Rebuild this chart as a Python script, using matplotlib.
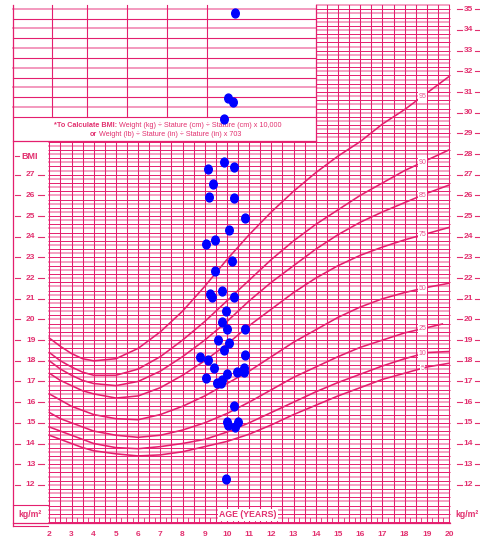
import numpy as np
import matplotlib
matplotlib.use("Agg")
import matplotlib.pyplot as plt
from matplotlib.markers import MarkerStyle
from matplotlib.transforms import Affine2D

plt.rcParams['font.family'] = ['Liberation Sans', 'DejaVu Sans']

# ── percentile curves (girls BMI-for-age) ─────────────────────────────────
ages = [2, 2.5, 3, 3.5, 4, 5, 6, 7, 8, 9, 10, 11, 12, 13, 14, 15, 16, 17, 18, 19, 20]
p95 = [19.1, 18.7, 18.35, 18.1, 18.0, 18.1, 18.6, 19.4, 20.4, 21.6, 22.9, 24.1, 25.2, 26.2, 27.1, 27.9, 28.6, 29.45, 30.15, 30.95, 31.75]
p90 = [18.4, 18.0, 17.7, 17.45, 17.3, 17.3, 17.6, 18.2, 19.0, 19.9, 20.9, 21.9, 22.9, 23.8, 24.6, 25.3, 26.0, 26.6, 27.2, 27.7, 28.2]
p85 = [18.0, 17.6, 17.3, 17.05, 16.9, 16.8, 17.0, 17.5, 18.2, 19.0, 19.9, 20.9, 21.8, 22.6, 23.4, 24.1, 24.7, 25.2, 25.65, 26.1, 26.5]
p75 = [17.4, 17.05, 16.8, 16.55, 16.4, 16.2, 16.3, 16.7, 17.3, 18.0, 18.8, 19.7, 20.5, 21.3, 22.0, 22.6, 23.1, 23.5, 23.85, 24.15, 24.45]
p50 = [16.4, 16.1, 15.8, 15.6, 15.4, 15.2, 15.15, 15.4, 15.8, 16.3, 16.9, 17.5, 18.2, 18.9, 19.5, 20.1, 20.6, 21.0, 21.3, 21.55, 21.75]
ages25 = [2, 2.5, 3, 3.5, 4, 5, 6, 7, 8, 9, 10, 11, 12, 13, 14, 15, 16, 17, 18, 19, 19.7]
p25 = [15.5, 15.2, 15.0, 14.8, 14.6, 14.4, 14.3, 14.4, 14.65, 15.0, 15.45, 16.0, 16.6, 17.2, 17.7, 18.2, 18.65, 19.0, 19.35, 19.6, 19.78]
p10 = [14.8, 14.6, 14.4, 14.2, 14.0, 13.8, 13.75, 13.85, 14.0, 14.2, 14.55, 15.0, 15.5, 16.0, 16.5, 16.95, 17.35, 17.75, 18.1, 18.4, 18.45]
p5 = [14.4, 14.2, 14.0, 13.8, 13.65, 13.5, 13.4, 13.45, 13.6, 13.85, 14.1, 14.45, 14.9, 15.4, 15.85, 16.3, 16.7, 17.1, 17.4, 17.7, 17.88]

curves = [('95', ages, p95), ('90', ages, p90), ('85', ages, p85), ('75', ages, p75),
          ('50', ages, p50), ('25', ages25, p25), ('10', ages, p10), ('5', ages, p5)]

# ── measured children ─────────────────────────────────────────────────────
pt_age = [10.38, 10.06, 10.26, 9.88, 9.16, 9.88, 10.32, 9.36, 9.21, 10.32,
          10.80, 10.08, 9.46, 9.07, 10.23, 9.46, 9.22, 9.33, 9.79, 10.32,
          9.97, 9.76, 10.00, 10.83, 9.58, 10.10, 9.88, 10.82, 8.80, 9.16,
          9.41, 9.04, 9.55, 9.76, 9.75, 10.02, 10.47, 10.75, 10.79, 10.32,
          9.99, 10.03, 10.50, 10.37, 9.97]
pt_bmi = [34.84, 30.70, 30.50, 29.71, 27.28, 27.60, 27.35, 26.55, 25.94, 25.86,
          24.92, 24.33, 23.83, 23.64, 22.84, 22.34, 21.23, 21.10, 21.40, 21.10,
          20.43, 19.87, 19.56, 19.55, 19.00, 18.87, 18.50, 18.26, 18.18, 18.06,
          17.64, 17.15, 16.95, 17.07, 16.95, 17.38, 17.45, 17.44, 17.64, 15.83,
          15.04, 14.90, 15.05, 14.82, 12.29]

age_ticks = list(range(2, 21))
bmi_left = list(range(12, 28))
bmi_right = list(range(12, 36))

DARK = '#e41f6e'
LIGHT = '#f188b3'
TXT = '#e2306f'

fig = plt.figure(figsize=(4.81, 5.38), dpi=100)
ax = fig.add_axes([0, 0, 1, 1])
ax.set_xlim(-0.22, 21.44)
ax.set_ylim(9.43, 35.45)
ax.axis('off')

x_left, x_box, y_box, y_band = 0.366, 14.01, 28.65, 29.79
y_bot, y_top = 10.16, 35.22

# main grid
for i, y in enumerate(np.arange(10.2, 35.21, 0.2)):
    x0 = x_box if y > y_box else 1.95
    ax.plot([x0, 20.05], [y, y], color=DARK if i % 2 == 0 else LIGHT,
            lw=0.7 if i % 2 == 0 else 1.1, zorder=1, solid_capstyle='butt')
for x in np.arange(2, 20.01, 0.5):
    ax.plot([x, x], [y_bot, y_box if x < x_box else y_top], color=DARK, lw=0.75, zorder=1)
for x in np.arange(2, 20, 0.25):
    ax.plot([x, x], [y_bot, y_bot + 0.25], color=DARK, lw=0.6, zorder=1)
ax.plot([x_left, 20.05], [y_bot, y_bot], color=DARK, lw=0.9, zorder=2)

# top-left box
for i, y in enumerate(np.linspace(35.03, y_band, 12)):
    ax.plot([x_left, x_box], [y, y], color=DARK if i % 2 == 1 else LIGHT,
            lw=0.8 if i % 2 == 1 else 1.2, zorder=1)
for x in [2.12, 3.70, 5.50, 7.30, 9.10]:
    ax.plot([x, x], [y_band, y_top], color=DARK, lw=0.8, zorder=1)
ax.plot([x_box, x_box], [y_box, y_top], color=DARK, lw=0.9, zorder=2)
ax.plot([x_left, x_box], [y_box, y_box], color=DARK, lw=0.9, zorder=2)
ax.plot([x_left, x_left], [10.0, y_top], color=DARK, lw=0.9, zorder=2)
ax.plot([x_left, 1.95], [11.03, 11.03], color=DARK, lw=0.8, zorder=2)
ax.plot([x_left, 1.95], [10.0, 10.0], color=DARK, lw=0.8, zorder=2)

fs_note = 5.25
ax.text(5.07, 29.38, '*To Calculate BMI:', ha='right', va='center', fontsize=fs_note,
        fontweight='bold', color=TXT, zorder=5)
ax.text(5.07, 29.38, ' Weight (kg) \u00f7 Stature (cm) \u00f7 Stature (cm) x 10,000', ha='left',
        va='center', fontsize=fs_note, color=TXT, zorder=5)
ax.text(4.17, 28.96, 'or', ha='right', va='center', fontsize=fs_note,
        fontweight='bold', color=TXT, zorder=5)
ax.text(4.17, 28.96, ' Weight (lb) \u00f7 Stature (in) \u00f7 Stature (in) x 703', ha='left',
        va='center', fontsize=fs_note, color=TXT, zorder=5)

# percentile curves and their labels
for name, xs, ys in curves:
    ax.plot(xs, ys, color=DARK, lw=1.15, zorder=3)
    ax.text(18.8, np.interp(18.8, xs, ys), name, ha='center', va='center', fontsize=5,
            color='#e8528f', zorder=7,
            bbox=dict(boxstyle='square,pad=0.12', fc='white', ec='none'))

# side scales
for b in bmi_left:
    ax.text(1.16, b, str(b), ha='center', va='center', fontsize=6, fontweight='bold', color=TXT)
    ax.plot([0.46, 0.70], [b, b], color=TXT, lw=0.8)
    ax.plot([1.50, 1.74], [b, b], color=TXT, lw=0.8)
ax.text(1.1, 27.9, 'BMI', ha='center', va='center', fontsize=6.5, fontweight='bold', color=TXT)
ax.plot([0.46, 0.62], [27.9, 27.9], color=TXT, lw=0.8)
for b in bmi_right:
    ax.text(20.87, b, str(b), ha='center', va='center', fontsize=6, fontweight='bold', color=TXT)
    ax.plot([20.36, 20.58], [b, b], color=TXT, lw=0.8)
    ax.plot([21.16, 21.44], [b, b], color=TXT, lw=0.8)
for a in age_ticks:
    ax.text(a, 9.6, str(a), ha='center', va='center', fontsize=6, fontweight='bold', color=TXT)

ax.text(1.13, 10.55, 'kg/m\u00b2', ha='center', va='center', fontsize=6.2, fontweight='bold', color=TXT)
ax.text(20.8, 10.55, 'kg/m\u00b2', ha='center', va='center', fontsize=6.2, fontweight='bold', color=TXT)
ax.text(10.95, 10.55, 'AGE (YEARS)', ha='center', va='center', fontsize=6.3, fontweight='bold',
        color=TXT, zorder=5, bbox=dict(boxstyle='square,pad=0.15', fc='white', ec='none'))

# children
dot = MarkerStyle('o', transform=Affine2D().scale(0.85, 1.0))
ax.plot(pt_age, pt_bmi, linestyle='none', marker=dot, ms=6.4, color='#0000ff',
        mec='#0000ff', zorder=6)

fig.savefig('out.png', dpi=100)
